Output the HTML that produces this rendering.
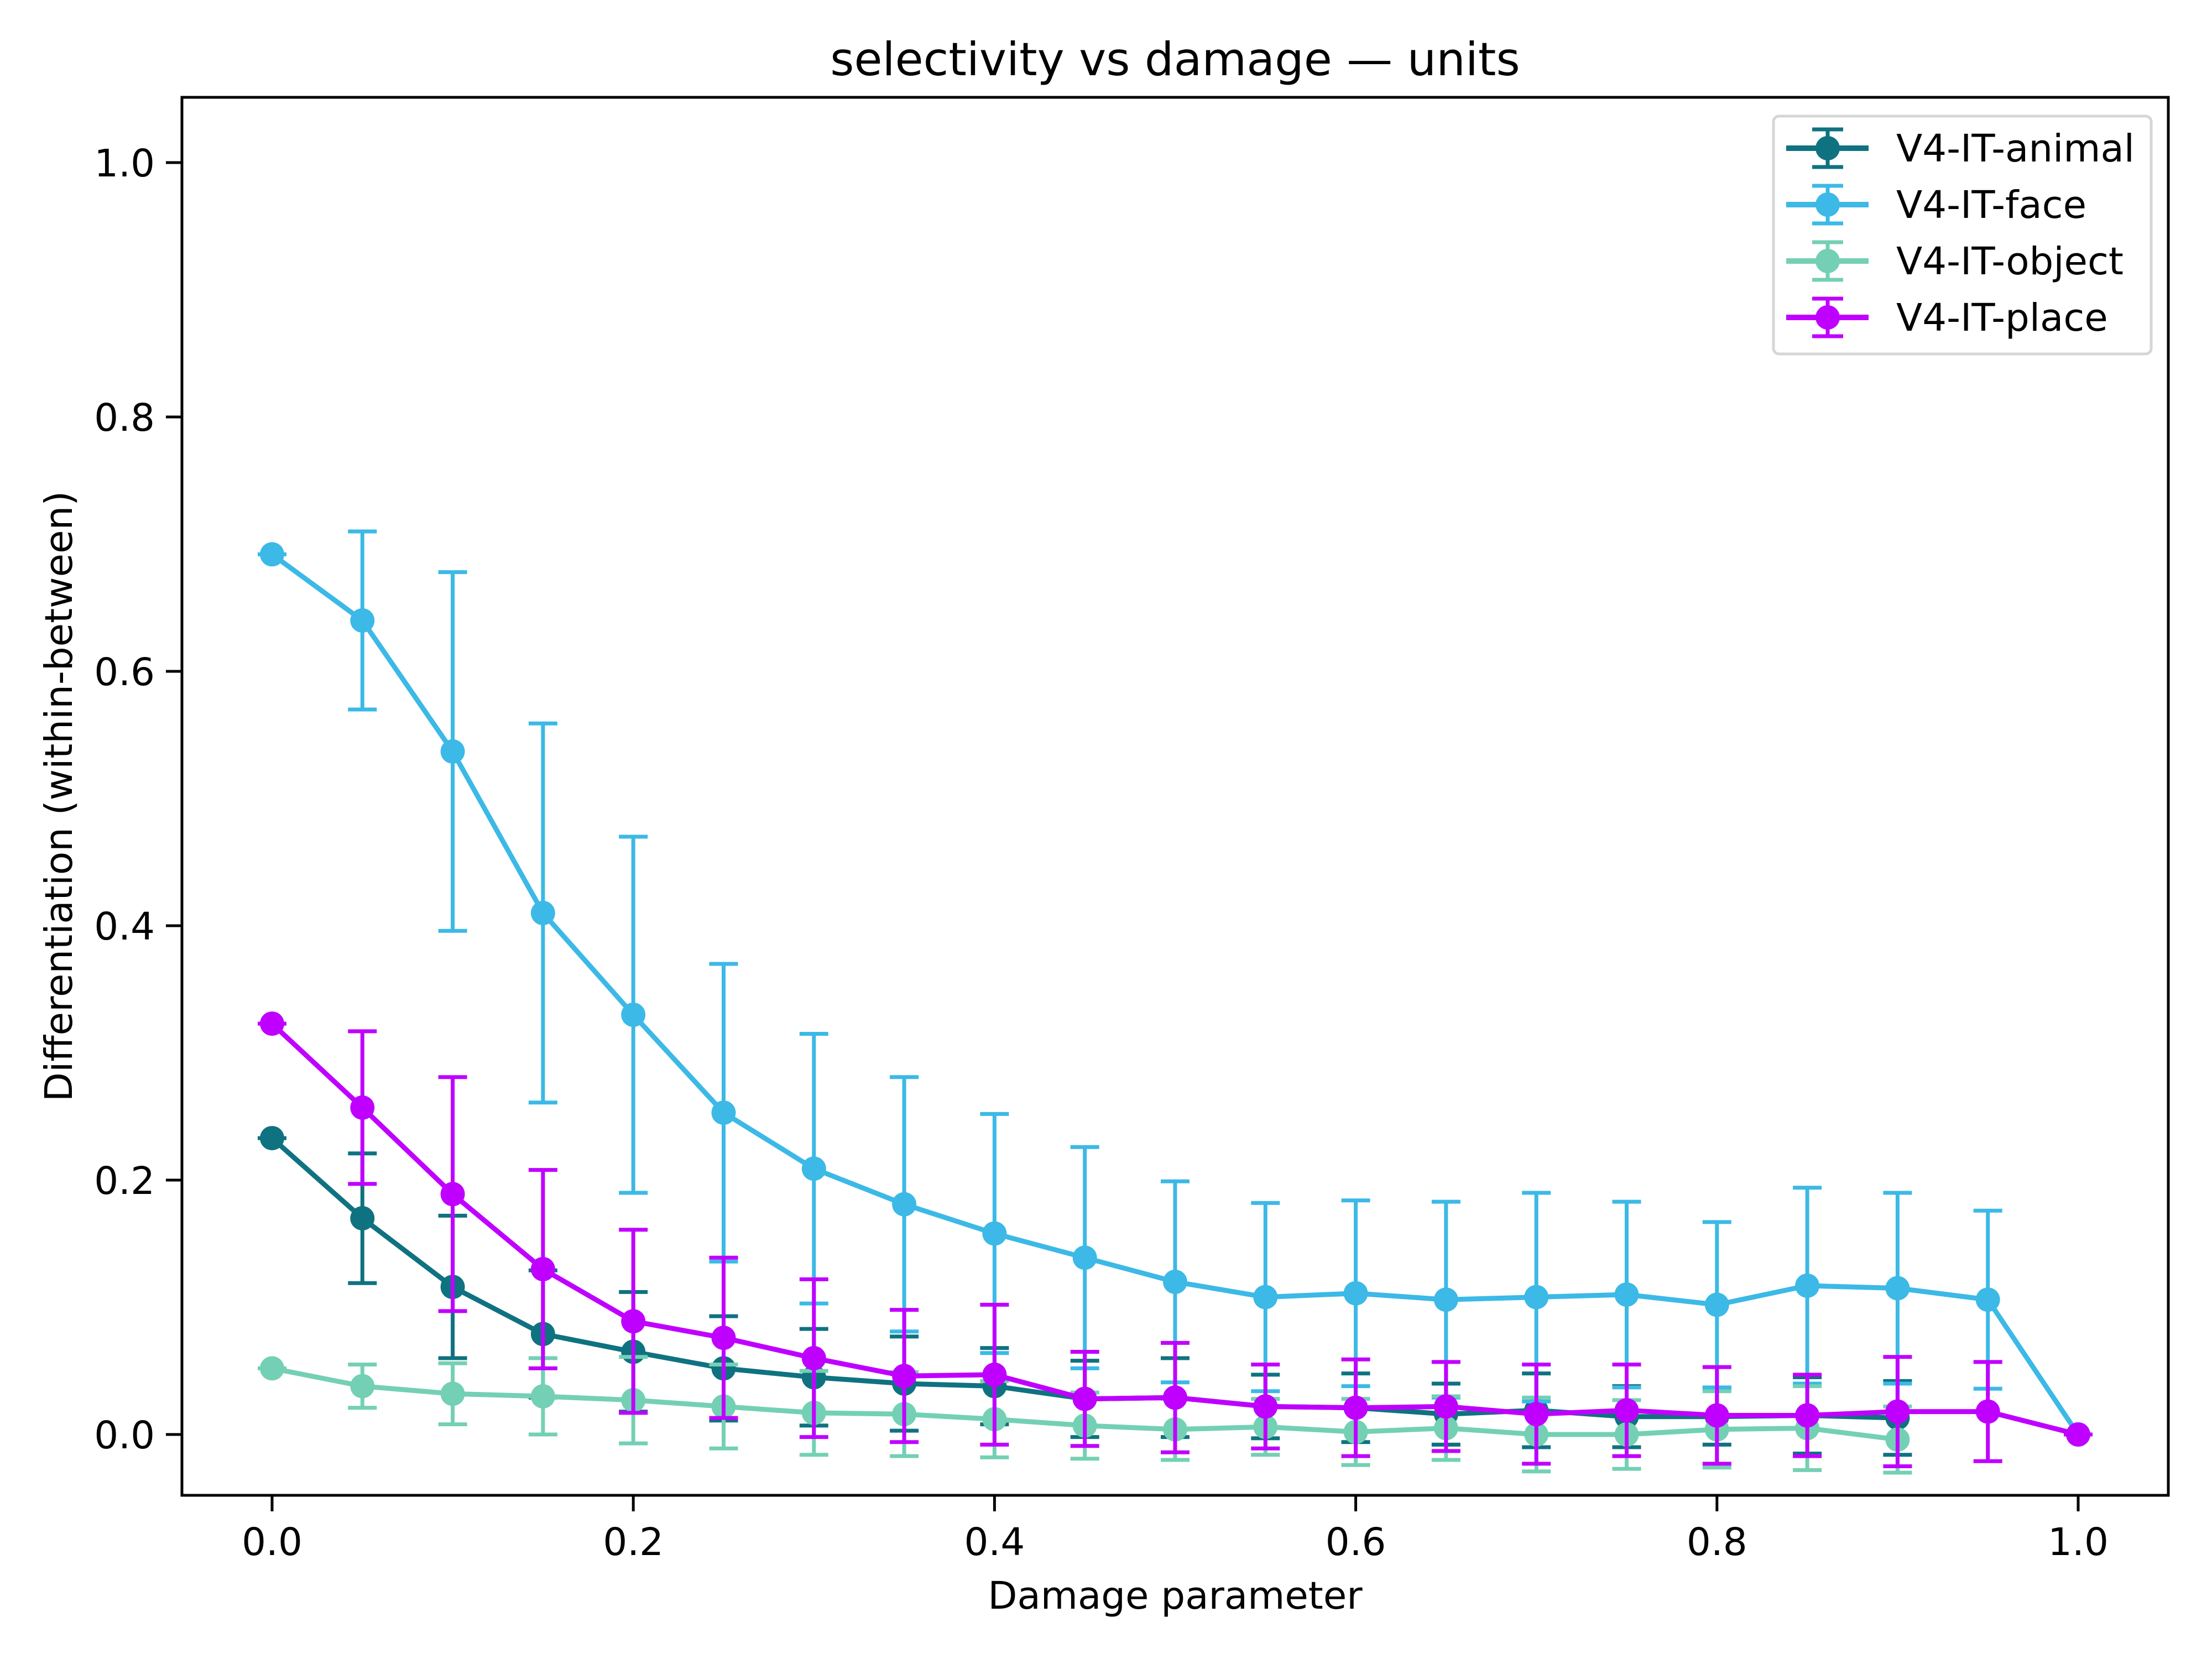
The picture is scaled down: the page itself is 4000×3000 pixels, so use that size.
<!DOCTYPE html>
<html><head><meta charset="utf-8"><style>
html,body{margin:0;padding:0;background:#fff;}
svg{display:block;font-family:"DejaVu Sans","Liberation Sans",sans-serif;}
</style></head><body>
<svg id="chart" width="4000" height="3000" viewBox="0 0 4000 3000" xmlns="http://www.w3.org/2000/svg">
<rect width="4000" height="3000" fill="#fff"/>
<text x="2125" y="136" font-size="83" text-anchor="middle">selectivity vs damage — units</text>
<text x="2125" y="2909" font-size="69" text-anchor="middle">Damage parameter</text>
<text x="0" y="0" font-size="69" text-anchor="middle" transform="translate(130,1440) rotate(-90)">Differentiation (within-between)</text>
<g id="plot"></g>
<rect x="329" y="176" width="3592" height="2528" fill="none" stroke="#000" stroke-width="5"/>
<g id="legend"></g>
</svg>
<script>
const xs = [0,0.05,0.1,0.15,0.2,0.25,0.3,0.35,0.4,0.45,0.5,0.55,0.6,0.65,0.7,0.75,0.8,0.85,0.9,0.95,1.0];
const animalVals = [0.233,0.170,0.116,0.079,0.065,0.052,0.045,0.040,0.038,0.028,0.029,0.022,0.021,0.016,0.019,0.014,0.014,0.015,0.013];
const animalErr = [0,0.051,0.056,0.05,0.047,0.041,0.038,0.037,0.03,0.03,0.031,0.025,0.027,0.024,0.029,0.024,0.022,0.03,0.029];
const faceVals = [0.692,0.640,0.537,0.410,0.330,0.253,0.209,0.181,0.158,0.139,0.120,0.108,0.111,0.106,0.108,0.110,0.102,0.117,0.115,0.106,0.0];
const faceErr = [0,0.07,0.141,0.149,0.14,0.117,0.106,0.1,0.094,0.087,0.079,0.074,0.073,0.077,0.082,0.073,0.065,0.077,0.075,0.07,0];
const objectVals = [0.052,0.038,0.032,0.030,0.027,0.022,0.017,0.016,0.012,0.007,0.004,0.006,0.002,0.005,0.0,0.0,0.004,0.005,-0.004];
const objectErr = [0,0.017,0.024,0.03,0.034,0.033,0.033,0.033,0.03,0.026,0.024,0.022,0.026,0.025,0.029,0.027,0.03,0.033,0.026];
const placeVals = [0.323,0.257,0.189,0.130,0.089,0.076,0.060,0.046,0.047,0.028,0.029,0.022,0.021,0.022,0.016,0.019,0.015,0.015,0.018,0.018,0.0];
const placeErr = [0,0.06,0.092,0.078,0.072,0.063,0.062,0.052,0.055,0.037,0.043,0.033,0.038,0.035,0.039,0.036,0.038,0.032,0.043,0.039,0];
const xTicks = [0,0.2,0.4,0.6,0.8,1.0];
const xTickLabels = ["0.0","0.2","0.4","0.6","0.8","1.0"];
const yTicks = [0,0.2,0.4,0.6,0.8,1.0];
const yTickLabels = ["0.0","0.2","0.4","0.6","0.8","1.0"];
const seriesNames = ["V4-IT-animal","V4-IT-face","V4-IT-object","V4-IT-place"];

const NS = "http://www.w3.org/2000/svg";
const X = v => 492 + v * (3758 - 492);
const Y = v => 2594 - v * (2594 - 294);
function mk(tag, attrs, parent){ const e=document.createElementNS(NS,tag); for(const k in attrs) e.setAttribute(k,attrs[k]); parent.appendChild(e); return e; }
const svg = document.getElementById('chart');
const plot = document.getElementById('plot');

xTicks.forEach((t,i)=>{
  const l = mk('line',{x1:X(t),x2:X(t),y1:2704,y2:2733,stroke:'#000','stroke-width':5},svg);
  
  
  const tx = mk('text',{x:X(t),y:2812,'font-size':69,'text-anchor':'middle'},svg);
  tx.textContent = xTickLabels[i];
  
  
});
yTicks.forEach((t,i)=>{
  const l = mk('line',{x1:300,x2:329,y1:Y(t),y2:Y(t),stroke:'#000','stroke-width':5},svg);
  
  
  const tx = mk('text',{x:280,y:Y(t)+25,'font-size':69,'text-anchor':'end'},svg);
  tx.textContent = yTickLabels[i];
  
  
});

const colors = ["#0f7280","#3cb9e6","#74d0b4","#c000ff"];
const allVals = [animalVals,faceVals,objectVals,placeVals];
const allErr = [animalErr,faceErr,objectErr,placeErr];
allVals.forEach((vals,s)=>{
  const g = mk('g',{},plot);
  
  
  const c = colors[s];
  vals.forEach((v,i)=>{
    const e = allErr[s][i], x = X(xs[i]);
    const eb = mk('path',{d:`M${x},${Y(v-e)}V${Y(v+e)}M${x-26},${Y(v-e)}h52M${x-26},${Y(v+e)}h52`,stroke:c,'stroke-width':7,fill:'none'},g);
    
    
  });
  const pl = mk('polyline',{points:vals.map((v,i)=>X(xs[i])+','+Y(v)).join(' '),fill:'none',stroke:c,'stroke-width':9,'stroke-linejoin':'round'},g);
  
  
  vals.forEach((v,i)=>{
    const m = mk('circle',{cx:X(xs[i]),cy:Y(v),r:22,fill:c},g);
    
    
  });
});

const leg = document.getElementById('legend');
const box = mk('rect',{x:3207,y:210,width:683,height:430,rx:10,fill:'#fff',stroke:'#d6d6d6','stroke-width':5},leg);


seriesNames.forEach((n,i)=>{
  const y = 268 + i*102, c = colors[i];
  const g = mk('g',{},leg);
  
  
  mk('path',{d:`M3230,${y}h149`,stroke:c,'stroke-width':10,fill:'none'},g);
  mk('path',{d:`M3305,${y-34}v68M3277,${y-34}h56M3277,${y+34}h56`,stroke:c,'stroke-width':7,fill:'none'},g);
  mk('circle',{cx:3305,cy:y,r:22,fill:c},g);
  const t = mk('text',{x:3429,y:y+24,'font-size':69},g);
  t.textContent = n;
});
</script>
</body></html>
